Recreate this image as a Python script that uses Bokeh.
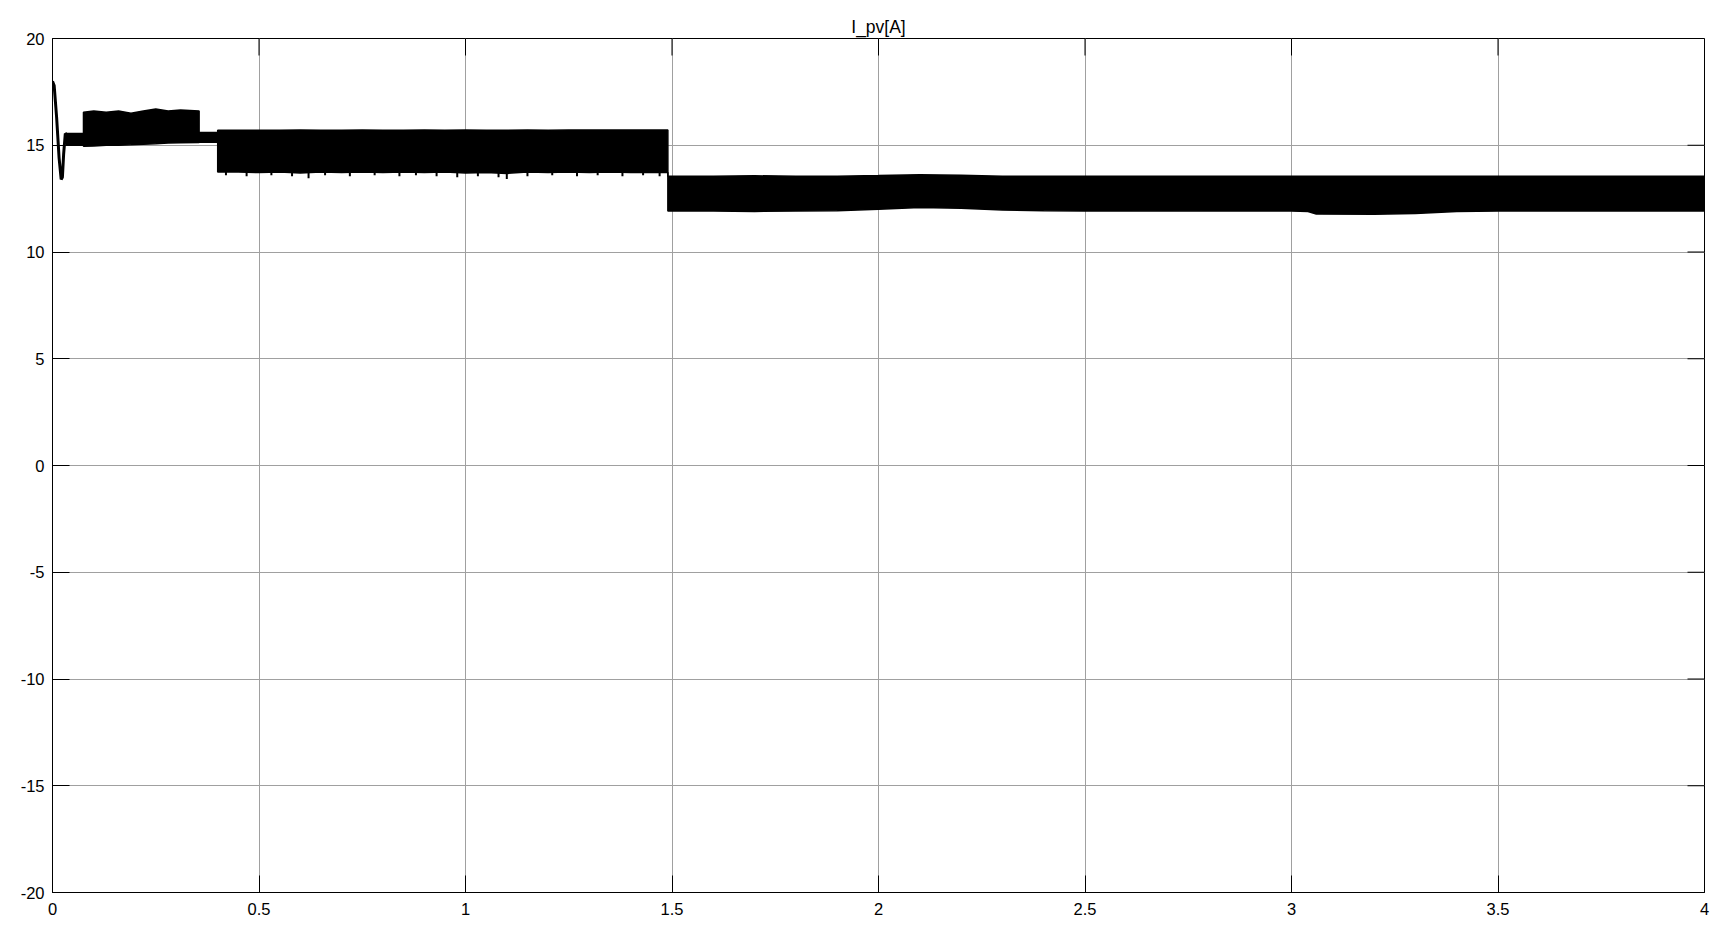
import math
from bokeh.plotting import figure
from bokeh.models import Range1d, FixedTicker, ColumnDataSource
from bokeh.embed import file_html
from bokeh.resources import INLINE

# ---- data ----
x_ticks = [0, 0.5, 1, 1.5, 2, 2.5, 3, 3.5, 4]
x_tick_labels = ["0", "0.5", "1", "1.5", "2", "2.5", "3", "3.5", "4"]
y_ticks = [-20, -15, -10, -5, 0, 5, 10, 15, 20]
y_tick_labels = ["-20", "-15", "-10", "-5", "0", "5", "10", "15", "20"]

# start-up transient of I_pv
t_start = [0.0, 0.004, 0.010, 0.016, 0.021, 0.024, 0.027, 0.031, 0.040]
i_start = [18.0, 17.8, 16.3, 14.4, 13.4, 13.5, 14.6, 15.55, 15.4]

# ripple band (upper / lower envelope of the switching ripple)
t_band = [0.032, 0.075, 0.075, 0.10, 0.13, 0.16, 0.19, 0.22, 0.25, 0.28, 0.31, 0.355,
          0.355, 0.40, 0.40, 0.45, 0.50, 0.55, 0.60, 0.65, 0.70, 0.75, 0.80, 0.85,
          0.90, 0.95, 1.00, 1.05, 1.10, 1.15, 1.20, 1.25, 1.30, 1.35, 1.40, 1.45,
          1.49, 1.49, 1.6, 1.7, 1.8, 1.9, 2.0, 2.1, 2.2, 2.3, 2.4, 2.5, 2.6, 2.7,
          2.8, 2.9, 3.0, 3.04, 3.06, 3.2, 3.3, 3.4, 3.5, 3.6, 3.7, 3.8, 3.9, 4.0]
i_upper = [15.55, 15.55, 16.55, 16.6, 16.55, 16.6, 16.5, 16.6, 16.7, 16.6, 16.65, 16.6,
           15.6, 15.6, 15.7, 15.7, 15.7, 15.7, 15.72, 15.7, 15.7, 15.72, 15.7, 15.7,
           15.72, 15.7, 15.72, 15.7, 15.7, 15.72, 15.7, 15.72, 15.72, 15.72, 15.72, 15.72,
           15.72, 13.55, 13.55, 13.57, 13.55, 13.55, 13.58, 13.62, 13.6, 13.55, 13.55, 13.55, 13.55, 13.55,
           13.55, 13.55, 13.55, 13.55, 13.55, 13.55, 13.55, 13.55, 13.55, 13.55, 13.55, 13.55, 13.55, 13.55]
i_lower = [15.0, 15.0, 14.95, 14.97, 15.0, 15.0, 15.02, 15.05, 15.07, 15.1, 15.12, 15.13,
           15.14, 15.15, 13.75, 13.75, 13.72, 13.75, 13.7, 13.75, 13.72, 13.75, 13.72, 13.75,
           13.72, 13.75, 13.7, 13.72, 13.68, 13.75, 13.72, 13.75, 13.72, 13.75, 13.72, 13.72,
           13.72, 11.92, 11.92, 11.9, 11.92, 11.93, 12.0, 12.08, 12.05, 11.97, 11.93, 11.92, 11.92, 11.93,
           11.92, 11.92, 11.92, 11.9, 11.78, 11.77, 11.8, 11.9, 11.92, 11.92, 11.92, 11.92, 11.92, 11.92]

# deeper downward ripple spikes below the band between 0.4 s and 1.5 s (time, minimum)
t_spike = [0.42, 0.47, 0.53, 0.58, 0.62, 0.66, 0.72, 0.78, 0.84, 0.88, 0.93, 0.98,
           1.03, 1.08, 1.10, 1.15, 1.21, 1.27, 1.32, 1.38, 1.43, 1.47]
i_spike = [13.6, 13.55, 13.6, 13.55, 13.45, 13.6, 13.55, 13.6, 13.55, 13.6, 13.55, 13.5,
           13.55, 13.5, 13.42, 13.55, 13.6, 13.55, 13.6, 13.55, 13.6, 13.55]
i_spike_top = [13.8] * len(t_spike)

FONT = "Liberation Sans"

p = figure(width=1717, height=921, x_range=Range1d(0, 4), y_range=Range1d(-20, 20),
           output_backend="svg", toolbar_location=None, title="I_pv[A]",
           min_border_left=52, min_border_right=13, min_border_top=38, min_border_bottom=29)
p.background_fill_color = "white"
p.border_fill_color = "white"
p.outline_line_color = "black"

p.title.text_font = FONT
p.title.text_font_size = "17.5px"
p.title.text_font_style = "normal"
p.title.text_color = "black"
p.title.align = "center"
p.title.standoff = 3

xt = FixedTicker(ticks=x_ticks)
yt = FixedTicker(ticks=y_ticks)

xax = p.below[0]
yax = p.left[0]
xax.ticker = xt
yax.ticker = yt
xax.major_label_overrides = {v: s for v, s in zip(x_ticks, x_tick_labels)}
yax.major_label_overrides = {v: s for v, s in zip(y_ticks, y_tick_labels)}

for ax in [xax, yax]:
    ax.major_tick_in = 17
    ax.major_tick_out = 0
    ax.minor_tick_line_color = None
    ax.axis_line_color = "black"
    ax.major_tick_line_color = "black"
    ax.major_label_text_font = FONT
    ax.major_label_text_font_size = "16.5px"
    ax.major_label_text_color = "black"
yax.major_label_standoff = 8
xax.major_label_standoff = 10

p.xgrid.ticker = xt
p.ygrid.ticker = yt
p.xgrid.grid_line_color = "#a0a0a0"
p.ygrid.grid_line_color = "#a0a0a0"

# inward ticks on the top and right edges of the box
p.ray(x=x_ticks, y=[y_ticks[-1]] * len(x_ticks), length=17, length_units="screen",
      angle=-math.pi / 2, line_color="black", line_width=1)
p.ray(x=[x_ticks[-1]] * len(y_ticks), y=y_ticks, length=17, length_units="screen",
      angle=math.pi, line_color="black", line_width=1)

band = ColumnDataSource(dict(t=t_band, up=i_upper, lo=i_lower))
p.varea(x="t", y1="lo", y2="up", source=band, fill_color="black")
p.line(x="t", y="up", source=band, line_color="black", line_width=1.5)
p.line(x="t", y="lo", source=band, line_color="black", line_width=1.5)

spikes = ColumnDataSource(dict(t=t_spike, lo=i_spike, hi=i_spike_top))
p.segment(x0="t", y0="lo", x1="t", y1="hi", source=spikes, line_color="black", line_width=2)

start = ColumnDataSource(dict(t=t_start, i=i_start))
p.line(x="t", y="i", source=start, line_color="black", line_width=3)

open("out.html", "w").write(file_html(p, INLINE))
